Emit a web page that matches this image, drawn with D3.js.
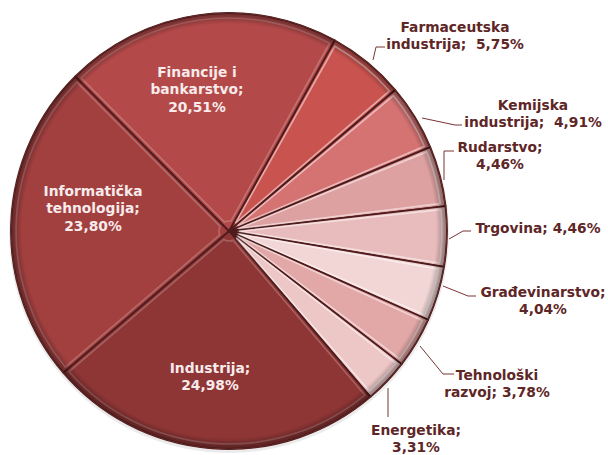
<!DOCTYPE html>
<html>
<head>
<meta charset="utf-8">
<script src="https://cdn.jsdelivr.net/npm/d3@7"></script>
<style>
  body { margin: 0; background: #fff; }
  .oznaka { font-family: "DejaVu Sans", Verdana, sans-serif; font-weight: bold; font-size: 13.8px; white-space: pre; }
</style>
</head>
<body>
<div id="okvir"></div>
<script>
// podaci
const sektori = ["Farmaceutska industrija", "Kemijska industrija", "Rudarstvo", "Trgovina",
  "Građevinarstvo", "Tehnološki razvoj", "Energetika", "Industrija",
  "Informatička tehnologija", "Financije i bankarstvo"]
const udjeli = [5.75, 4.91, 4.46, 4.46, 4.04, 3.78, 3.31, 24.98, 23.80, 20.51]
const tekstovi = [
  ["Farmaceutska", "industrija;  5,75%"],
  ["Kemijska", "industrija;  4,91%"],
  ["Rudarstvo;", "4,46%"],
  ["Trgovina; 4,46%"],
  ["Građevinarstvo;", "4,04%"],
  ["Tehnološki", "razvoj; 3,78%"],
  ["Energetika;", "3,31%"],
  ["Industrija;", "24,98%"],
  ["Informatička", "tehnologija;", "23,80%"],
  ["Financije i", "bankarstvo;", "20,51%"]
]
const boje = ["#c9534f", "#d57373", "#dea1a1", "#e8bcbc", "#f2d6d6", "#e2a7a7", "#edc6c6",
  "#8e3535", "#a23f3f", "#b44949"]

async function crtajPitu() {
  const dimenzije = { sirina: 608, visina: 455 }
  const centar = [229, 231]
  const r = 218

  // raspored oznaka (centar teksta, unutra ili van, tocke vodilice)
  const raspored = [
    { x: 455, y: 27, van: true, vod: [[373, 60], [376, 47], [385, 47]] },
    { x: 533, y: 105, van: true, vod: [[422, 118], [455, 125], [462, 125]] },
    { x: 500, y: 147, van: true, vod: [[444, 180], [444, 151], [454, 151]] },
    { x: 538, y: 228, van: true, vod: [[449, 239], [463, 231], [471, 231]] },
    { x: 543, y: 292, van: true, vod: [[443, 286], [468, 296], [476, 296]] },
    { x: 497, y: 375, van: true, vod: [[420, 346], [443, 374], [454, 374]] },
    { x: 416, y: 430, van: true, vod: [[388, 388], [388, 417]] },
    { x: 210, y: 368, van: false },
    { x: 93, y: 191, van: false },
    { x: 197, y: 72, van: false }
  ]

  const okvir = d3.select("#okvir")
    .append("svg")
    .attr("width", dimenzije.sirina)
    .attr("height", dimenzije.visina)

  const defs = okvir.append("defs")
  const rub = defs.append("radialGradient")
    .attr("id", "rub")
    .attr("gradientUnits", "userSpaceOnUse")
    .attr("cx", 0).attr("cy", 0).attr("r", r)
  rub.append("stop").attr("offset", "0%").attr("stop-color", "#000").attr("stop-opacity", 0)
  rub.append("stop").attr("offset", "95%").attr("stop-color", "#000").attr("stop-opacity", 0)
  rub.append("stop").attr("offset", "100%").attr("stop-color", "#000").attr("stop-opacity", 0.4)

  const pita = d3.pie()
    .sort(null)
    .startAngle(29 * Math.PI / 180)
    .endAngle(29 * Math.PI / 180 + 2 * Math.PI)
  const kriske = pita(udjeli)

  const lukGenerator = d3.arc().innerRadius(0).outerRadius(r)
  const svjetloGenerator = d3.arc().innerRadius(10).outerRadius(r - 5)
    .padAngle(0.028).padRadius(r)

  const granice = okvir.append("g")
    .attr("transform", `translate(${centar[0]},${centar[1]})`)

  // sjena ispod pite
  granice.append("circle")
    .attr("r", r + 2)
    .attr("cy", 2)
    .attr("fill", "#000")
    .attr("opacity", 0.08)

  granice.selectAll(".kriska")
    .data(kriske)
    .enter().append("path")
      .attr("class", "kriska")
      .attr("d", lukGenerator)
      .attr("fill", (d, i) => boje[i])
      .attr("stroke", "#4e1c1c")
      .attr("stroke-width", 1.8)
      .attr("stroke-linejoin", "round")

  // svijetli rub (bevel)
  granice.selectAll(".svjetlo")
    .data(kriske)
    .enter().append("path")
      .attr("class", "svjetlo")
      .attr("d", svjetloGenerator)
      .attr("fill", "none")
      .attr("stroke", "#fff")
      .attr("stroke-opacity", (d, i) => i < 7 ? 0.5 : 0.22)
      .attr("stroke-width", 1.6)

  granice.append("circle")
    .attr("r", r)
    .attr("fill", "url(#rub)")
    .attr("stroke", "#6a2a2a")
    .attr("stroke-width", 1)

  // vodilice
  okvir.selectAll(".vodilica")
    .data(raspored.filter(d => d.van))
    .enter().append("path")
      .attr("class", "vodilica")
      .attr("d", d => d3.line()(d.vod))
      .attr("fill", "none")
      .attr("stroke", "#7a3535")
      .attr("stroke-width", 1)

  // oznake
  const oznake = okvir.selectAll(".oznaka")
    .data(kriske)
    .enter().append("text")
      .attr("class", "oznaka")
      .attr("text-anchor", "middle")
      .attr("fill", (d, i) => raspored[i].van ? "#5e2626" : "#f7ebeb")

  oznake.each(function(d, i) {
    const el = d3.select(this)
    tekstovi[i].forEach((red, j) => {
      el.append("tspan")
        .attr("x", raspored[i].x)
        .attr("y", raspored[i].y + j * 17.5)
        .attr("dy", "0.35em")
        .text(red)
    })
  })
}
crtajPitu()
</script>
</body>
</html>
